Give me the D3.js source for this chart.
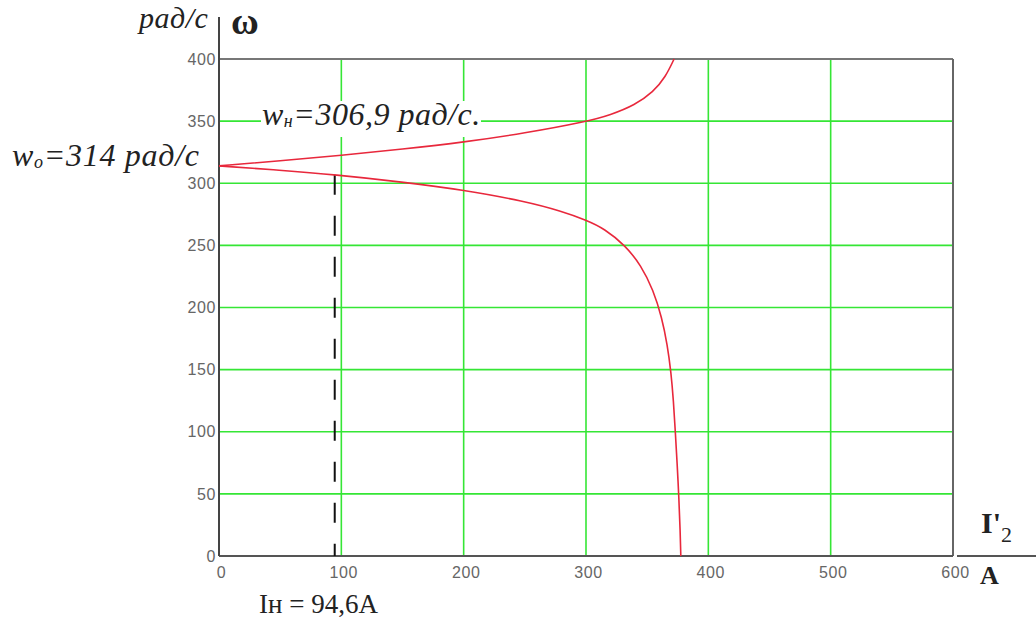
<!DOCTYPE html>
<html>
<head>
<meta charset="utf-8">
<script src="https://cdn.jsdelivr.net/npm/d3@7"></script>
<style>
  html, body { margin: 0; padding: 0; background: #fff; }
  svg { display: block; }
  .tick-label { font-family: "Liberation Sans Narrow", "Liberation Sans", Arial, sans-serif; font-size: 16px; fill: #666; letter-spacing: 0.6px; }
  .serif { font-family: "Liberation Serif", "Times New Roman", serif; fill: #222; }
</style>
</head>
<body>
<svg id="chart" width="1036" height="621"></svg>
<script>
// Current axis (A) and angular speed axis (rad/s)
const xTicks = [0, 100, 200, 300, 400, 500, 600];
const yTicks = [0, 50, 100, 150, 200, 250, 300, 350, 400];

// Speed–current characteristic: motor branch (below ω0) and generator branch (above ω0)
const motorI =     [0, 50, 94.6, 150, 200, 250, 280, 300, 315, 332, 345, 355, 362, 366.5, 369.5, 371.5, 373, 374.5, 376, 377, 377.5];
const motorW =     [314, 310.5, 306.9, 301, 294.6, 285.5, 277.5, 270.4, 263.5, 250, 234, 214, 192, 170, 148, 125, 100, 75, 45, 20, 0];
const generatorI = [0, 50, 100, 150, 200, 250, 300, 320, 340, 355, 365, 372];
const generatorW = [314, 318, 322.5, 327.5, 333, 340.3, 349.5, 355, 363, 373.5, 385.5, 400];

// Rated operating point
const ratedI = 94.6;
const ratedW = 306.9;
const idleW = 314;

const svg = d3.select("#chart");
const x = d3.scaleLinear().domain([0, 600]).range([219, 953]);
const y = d3.scaleLinear().domain([0, 400]).range([556, 59]);

const green = "#35e635";

// grid
svg.append("g").selectAll("line")
  .data(yTicks.filter(v => v > 0 && v < 400))
  .join("line")
  .attr("x1", x(0)).attr("x2", x(600))
  .attr("y1", d => y(d)).attr("y2", d => y(d))
  .attr("stroke", green).attr("stroke-width", 1.6);
svg.append("g").selectAll("line")
  .data(xTicks.filter(v => v > 0 && v < 600))
  .join("line")
  .attr("x1", d => x(d)).attr("x2", d => x(d))
  .attr("y1", y(0)).attr("y2", y(400))
  .attr("stroke", green).attr("stroke-width", 1.6);

// frame
svg.append("line").attr("x1", x(0)).attr("x2", x(600)).attr("y1", y(400)).attr("y2", y(400))
  .attr("stroke", "#777").attr("stroke-width", 2);
svg.append("line").attr("x1", x(600)).attr("x2", x(600)).attr("y1", y(400)).attr("y2", y(0))
  .attr("stroke", "#666").attr("stroke-width", 2);

// axes
const xAxis = d3.axisBottom(x).tickValues(xTicks).tickSize(0).tickPadding(0);
const gx = svg.append("g").attr("transform", `translate(0,${y(0)})`).call(xAxis);
gx.select(".domain").remove();
gx.selectAll("text").attr("class", "tick-label").attr("fill", null)
  .attr("dx", 2).attr("y", 17).attr("dy", "0.32em");

const yAxis = d3.axisLeft(y).tickValues(yTicks).tickSize(0).tickPadding(0);
const gy = svg.append("g").attr("transform", `translate(${x(0)},0)`).call(yAxis);
gy.select(".domain").remove();
gy.selectAll("text").attr("class", "tick-label").attr("fill", null)
  .attr("x", -3).attr("dy", "0.32em");

svg.append("line").attr("x1", x(0)).attr("x2", x(600)).attr("y1", y(0)).attr("y2", y(0))
  .attr("stroke", "#555").attr("stroke-width", 2);
svg.append("line").attr("x1", x(600) + 4).attr("x2", 1036).attr("y1", y(0)).attr("y2", y(0))
  .attr("stroke", "#555").attr("stroke-width", 2);
svg.append("line").attr("x1", x(0)).attr("x2", x(0)).attr("y1", 17).attr("y2", y(0))
  .attr("stroke", "#444").attr("stroke-width", 2);

// rated-current marker
svg.append("line")
  .attr("x1", x(ratedI)).attr("x2", x(ratedI))
  .attr("y1", y(ratedW)).attr("y2", y(0))
  .attr("stroke", "#111").attr("stroke-width", 2)
  .attr("stroke-dasharray", "20,21");

// white backing behind the rated-speed label
svg.append("rect").attr("x", 261).attr("y", 101).attr("width", 220).attr("height", 36).attr("fill", "#fff");

// characteristic curve
const line = d3.line().x(d => x(d[0])).y(d => y(d[1])).curve(d3.curveBasis);
const branches = [
  d3.zip(motorI, motorW),
  d3.zip(generatorI, generatorW)
];
svg.append("g").selectAll("path")
  .data(branches)
  .join("path")
  .attr("d", line)
  .attr("fill", "none")
  .attr("stroke", "#e8283c")
  .attr("stroke-width", 1.6);

// text annotations
svg.append("text").attr("class", "serif").attr("x", 139).attr("y", 28)
  .attr("font-size", 30).attr("font-style", "italic").attr("letter-spacing", 0.5).text("рад/с");
svg.append("text").attr("class", "serif").attr("x", 231).attr("y", 34)
  .attr("font-size", 38).attr("font-weight", "bold").text("ω");

const t0 = svg.append("text").attr("class", "serif").attr("x", 12).attr("y", 166)
  .attr("font-size", 32).attr("font-style", "italic").attr("letter-spacing", 0.7);
t0.append("tspan").text("w");
t0.append("tspan").attr("font-size", 18).attr("dy", 2).text("o");
t0.append("tspan").attr("dy", -2).text("=" + idleW + " рад/с");

const tn = svg.append("text").attr("class", "serif").attr("x", 262).attr("y", 125)
  .attr("font-size", 32).attr("font-style", "italic").attr("letter-spacing", 0.5);
tn.append("tspan").text("w");
tn.append("tspan").attr("font-size", 18).attr("dy", 2).text("н");
tn.append("tspan").attr("dy", -2).text("=" + String(ratedW).replace(".", ",") + " рад/с.");

svg.append("text").attr("class", "serif").attr("x", 259).attr("y", 613)
  .attr("font-size", 27).text("Iн = " + String(ratedI).replace(".", ",") + "A");

const tI = svg.append("text").attr("class", "serif").attr("x", 981).attr("y", 533)
  .attr("font-size", 30).attr("font-weight", "bold");
tI.append("tspan").text("I'");
tI.append("tspan").attr("font-size", 22).attr("font-weight", "normal").attr("dy", 9).text("2");

svg.append("text").attr("class", "serif").attr("x", 980).attr("y", 584)
  .attr("font-size", 26).attr("font-weight", "bold").text("A");
</script>
</body>
</html>
